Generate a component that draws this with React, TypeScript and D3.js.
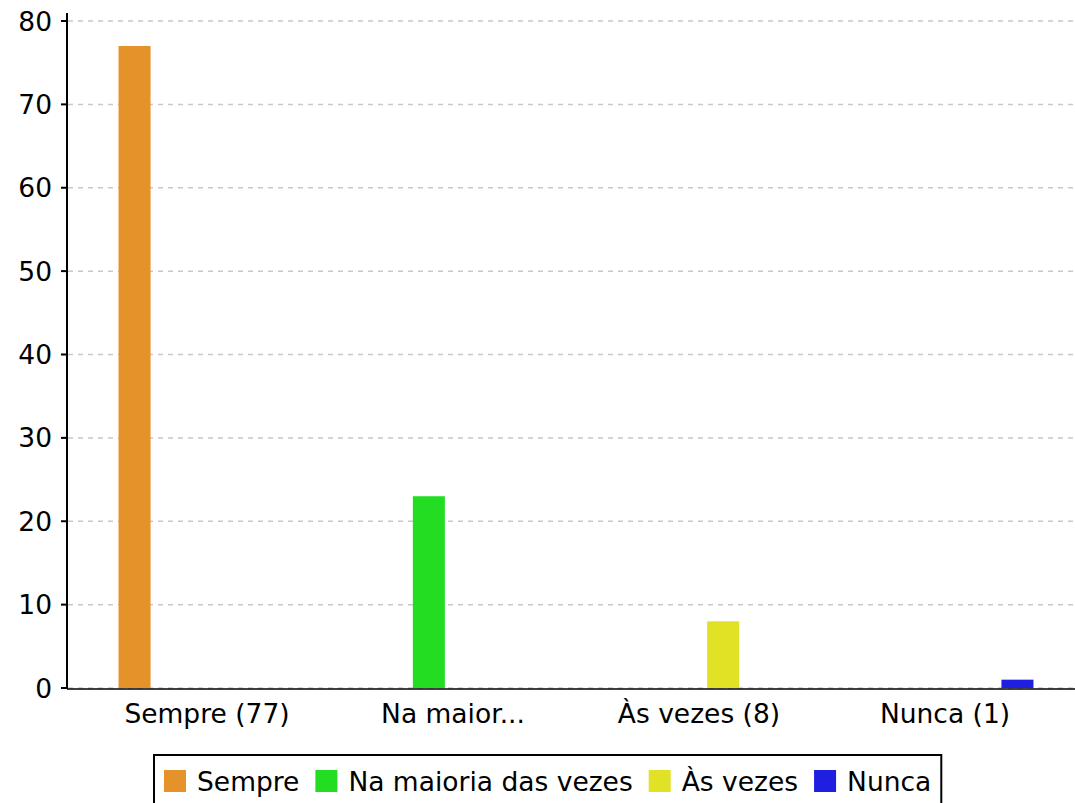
import React from "react";
import { scaleBand, scaleLinear } from "d3";

// categorias do eixo x
const categories = ["Sempre (77)", "Na maior...", "Às vezes (8)", "Nunca (1)"];
// séries (legenda)
const seriesNames = ["Sempre", "Na maioria das vezes", "Às vezes", "Nunca"];
// valores por série, uma entrada por categoria
const seriesValues = [
  [77, 0, 0, 0],
  [0, 23, 0, 0],
  [0, 0, 8, 0],
  [0, 0, 0, 1],
];
const seriesColors = ["#e5922b", "#22dd22", "#e1e125", "#1f1fe0"];
const yTicks = [0, 10, 20, 30, 40, 50, 60, 70, 80];

const W = 1075;
const H = 803;
const FONT = "DejaVu Sans, sans-serif";
const FS = 26.5;

const measure = (() => {
  let ctx: CanvasRenderingContext2D | null = null;
  return (t: string) => {
    if (!ctx) ctx = document.createElement("canvas").getContext("2d");
    if (!ctx) return t.length * FS * 0.6;
    ctx.font = `${FS}px DejaVu Sans`;
    return ctx.measureText(t).width;
  };
})();

export default function App() {
  const left = 67;
  const right = W;
  const top = 13;
  const bottom = 688;

  const y = scaleLinear().domain([0, 80]).range([bottom, 21]);
  const x0 = scaleBand().domain(categories).range([84, 1068]).padding(0);
  const x1 = scaleBand()
    .domain(seriesNames)
    .range([0, x0.bandwidth()])
    .paddingInner(0.337)
    .paddingOuter(0.715);

  // legenda
  const sq = 22;
  const gapText = 11;
  const gapItem = 16;
  const legendPad = 10;
  let cx = 0;
  const legendItems = seriesNames.map((name, i) => {
    const w = measure(name);
    const item = { name, color: seriesColors[i], x: cx, w };
    cx += sq + gapText + w + gapItem;
    return item;
  });
  const legendW = cx - gapItem + legendPad * 2;
  const legendX = 154;
  const legendY = 755;

  return (
    <svg
      width={W}
      height={H}
      style={{ position: "absolute", left: 0, top: 0, background: "#fff" }}
      fontFamily={FONT}
    >
      {/* grid */}
      {yTicks.map((t) => (
        <line
          key={t}
          x1={left + 1}
          x2={right}
          y1={y(t)}
          y2={y(t)}
          stroke="#c8c8c8"
          strokeWidth={1.5}
          strokeDasharray="5,5"
        />
      ))}

      {/* barras */}
      {seriesNames.map((s, si) =>
        categories.map((c, ci) => {
          const v = seriesValues[si][ci];
          if (!v) return null;
          return (
            <rect
              key={s + c}
              x={(x0(c) ?? 0) + (x1(s) ?? 0)}
              y={y(v)}
              width={x1.bandwidth()}
              height={bottom - y(v)}
              fill={seriesColors[si]}
            />
          );
        })
      )}

      {/* eixos */}
      <line x1={left} x2={right} y1={bottom + 1} y2={bottom + 1} stroke="#000" strokeWidth={1.5} />
      <line x1={left} x2={left} y1={top} y2={bottom + 1} stroke="#000" strokeWidth={2} />
      {yTicks.map((t) => (
        <g key={t}>
          <line x1={left - 6} x2={left} y1={y(t)} y2={y(t)} stroke="#000" strokeWidth={2} />
          <text
            x={left - 15}
            y={y(t)}
            textAnchor="end"
            dominantBaseline="central"
            fontSize={FS}
            fill="#000"
          >
            {t}
          </text>
        </g>
      ))}
      {categories.map((c) => (
        <text
          key={c}
          x={(x0(c) ?? 0) + x0.bandwidth() / 2}
          y={723}
          textAnchor="middle"
          fontSize={FS}
          fill="#000"
        >
          {c}
        </text>
      ))}

      {/* legenda */}
      <rect
        x={legendX}
        y={legendY}
        width={legendW}
        height={70}
        fill="#fff"
        stroke="#000"
        strokeWidth={2}
      />
      {legendItems.map((it) => (
        <g key={it.name} transform={`translate(${legendX + legendPad + it.x},770)`}>
          <rect width={sq} height={sq} fill={it.color} />
          <text
            x={sq + gapText}
            y={sq / 2}
            dominantBaseline="central"
            fontSize={FS}
            fill="#000"
          >
            {it.name}
          </text>
        </g>
      ))}
    </svg>
  );
}
